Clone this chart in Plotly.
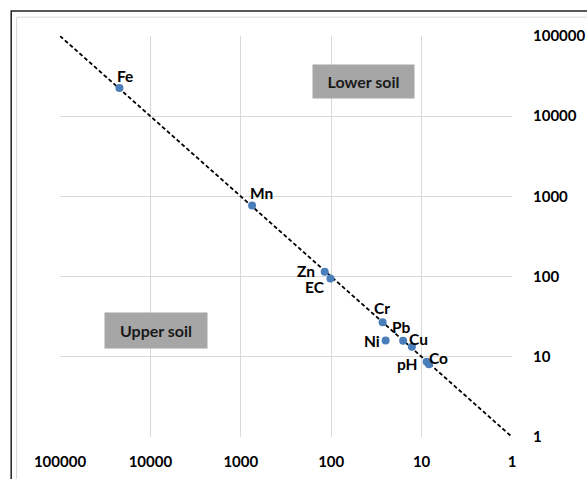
import numpy as np
import plotly.graph_objects as go

# Data
labels = ["Fe", "Mn", "Zn", "EC", "Cr", "Ni", "Pb", "Cu", "pH", "Co"]
upper_soil = [22000, 750, 118, 102, 27, 25, 16, 12.8, 8.8, 8.3]   # x (reversed log)
lower_soil = [22500, 770, 115, 95, 27, 16, 15.8, 13.3, 8.7, 8.1]   # y (log)
line_x = [100000, 1]
line_y = [100000, 1]
tick_vals = [1, 10, 100, 1000, 10000, 100000]
tick_text = ["1", "10", "100", "1000", "10000", "100000"]

# label offsets in pixels (dx right, dy down)
label_offsets = [(6, -12), (9, -13), (-19, -1), (-15, 9), (-1, -14),
                 (-14, 1), (-2, -14), (7, -8), (-19, 2), (10, -6)]

FONT = "Lato, 'Noto Sans', sans-serif"

fig = go.Figure()
fig.add_trace(go.Scatter(
    x=line_x, y=line_y, mode="lines",
    line=dict(color="black", width=1.8, dash="4px,2.5px"),
    hoverinfo="skip", showlegend=False))
fig.add_trace(go.Scatter(
    x=upper_soil, y=lower_soil, mode="markers",
    marker=dict(color="#4a7ebb", size=8),
    showlegend=False))

annotations = []
for lab, xv, yv, (dx, dy) in zip(labels, upper_soil, lower_soil, label_offsets):
    annotations.append(dict(
        x=np.log10(xv), y=np.log10(yv), xref="x", yref="y",
        text=f"<b>{lab}</b>", showarrow=False,
        xshift=dx, yshift=-dy,
        font=dict(family=FONT, size=15.5, color="black")))

annotations.append(dict(
    x=np.log10(43.4), y=np.log10(27000), xref="x", yref="y",
    text="<b>Lower soil</b>", showarrow=False,
    bgcolor="#a6a6a6", width=99, height=31,
    font=dict(family=FONT, size=16, color="#1a1a1a")))
annotations.append(dict(
    x=np.log10(8650), y=np.log10(21.4), xref="x", yref="y",
    text="<b>Upper soil</b>", showarrow=False,
    bgcolor="#a6a6a6", width=100, height=33,
    font=dict(family=FONT, size=16, color="#1a1a1a")))

axis_common = dict(
    type="log", tickvals=tick_vals, ticktext=[f"<b>{t}</b>" for t in tick_text],
    showgrid=True, gridcolor="#d9d9d9", gridwidth=1,
    zeroline=False, showline=False, ticks="", automargin=False,
    tickfont=dict(family=FONT, size=15, color="black"))

fig.update_layout(
    width=587, height=479,
    margin=dict(l=59.5, r=75, t=36, b=42),
    paper_bgcolor="white", plot_bgcolor="white",
    xaxis=dict(range=[5, 0], ticklabelstandoff=14, **axis_common),
    yaxis=dict(range=[0, 5], side="right", ticklabelstandoff=20, **axis_common),
    annotations=annotations,
    shapes=[
        dict(type="rect", xref="paper", yref="paper",
             x0=-0.108, x1=1.3, y0=-0.3, y1=1.0625,
             line=dict(color="#222222", width=1.5), layer="below"),
        dict(type="rect", xref="paper", yref="paper",
             x0=-0.096, x1=1.3, y0=-0.3, y1=1.047,
             line=dict(color="#d9d9d9", width=1), layer="below"),
    ],
)

fig.write_html(
    "out.html",
    config={"displayModeBar": False},
    post_script="document.body.style.margin='0';document.body.style.overflow='hidden';",
)
